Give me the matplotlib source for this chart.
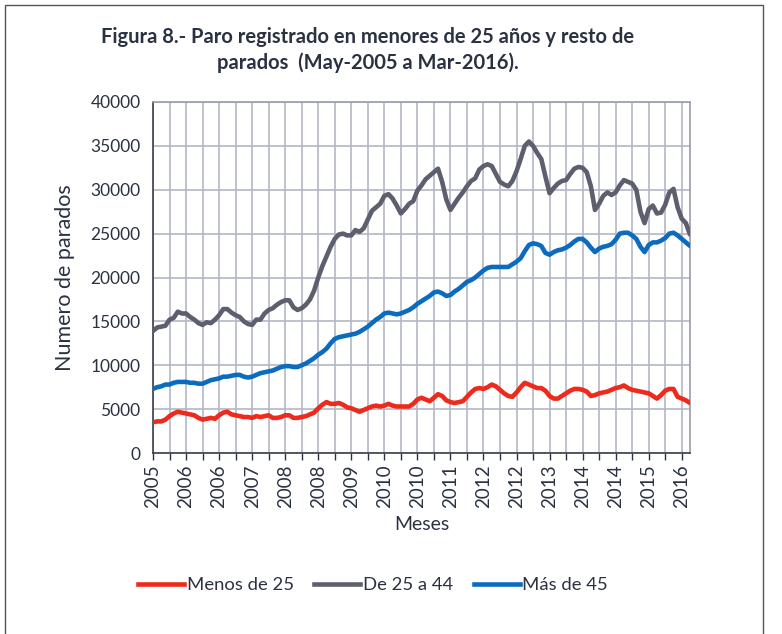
import matplotlib
matplotlib.use("Agg")
import matplotlib.pyplot as plt
from matplotlib.patches import Rectangle
from matplotlib.lines import Line2D

# ---- Data (monthly, May-2005 .. Mar-2016) ----
menos_25 = [3500, 3600, 3600, 3800, 4200, 4500, 4700, 4600, 4500, 4400,
            4300, 4000, 3800, 3900, 4000, 3900, 4300, 4600, 4700, 4400,
            4300, 4200, 4100, 4100, 4000, 4200, 4100, 4200, 4300, 4000,
            4000, 4100, 4300, 4300, 4000, 4000, 4100, 4200, 4400, 4600,
            5100, 5500, 5800, 5600, 5600, 5700, 5500, 5200, 5100, 4900,
            4700, 4900, 5100, 5300, 5400, 5300, 5400, 5600, 5400, 5300,
            5300, 5300, 5300, 5600, 6100, 6300, 6100, 5900, 6300, 6700,
            6500, 6000, 5800, 5700, 5800, 5900, 6400, 6900, 7300, 7400,
            7300, 7500, 7800, 7600, 7200, 6800, 6500, 6400, 6900, 7500,
            8000, 7800, 7600, 7400, 7400, 7100, 6500, 6200, 6200, 6500,
            6800, 7100, 7300, 7300, 7200, 7000, 6500, 6600, 6800, 6900,
            7000, 7200, 7400, 7500, 7700, 7400, 7200, 7100, 7000, 6900,
            6800, 6500, 6200, 6600, 7100, 7300, 7300, 6400, 6200, 6000,
            5700]

de_25_a_44 = [13900, 14300, 14400, 14500, 15200, 15400, 16100, 15900, 15900, 15500,
              15200, 14800, 14600, 14900, 14800, 15200, 15700, 16400, 16400, 16000,
              15700, 15500, 15000, 14700, 14600, 15200, 15200, 15900, 16300, 16500,
              16900, 17200, 17400, 17400, 16600, 16300, 16500, 16900, 17500, 18500,
              20000, 21300, 22400, 23500, 24400, 24900, 25000, 24800, 24800, 25400,
              25200, 25600, 26600, 27600, 28000, 28400, 29300, 29500, 29000, 28200,
              27300, 27800, 28400, 28700, 29900, 30500, 31200, 31600, 32000, 32400,
              30900, 28900, 27700, 28400, 29100, 29700, 30400, 31000, 31300, 32300,
              32700, 32900, 32700, 31800, 30900, 30600, 30400, 31000, 32100, 33500,
              35000, 35500, 35000, 34200, 33500, 31500, 29600, 30200, 30700, 31000,
              31100, 31800, 32400, 32600, 32500, 32000, 30400, 27700, 28400, 29300,
              29700, 29400, 29700, 30500, 31100, 30900, 30700, 30000, 27500, 26200,
              27800, 28200, 27300, 27400, 28300, 29700, 30100, 28000, 26700, 26200,
              24900]

mas_de_45 = [7300, 7500, 7600, 7800, 7800, 8000, 8100, 8100, 8100, 8000,
             8000, 7900, 7900, 8100, 8300, 8400, 8500, 8700, 8700, 8800,
             8900, 8900, 8700, 8600, 8700, 8900, 9100, 9200, 9300, 9400,
             9600, 9800, 9900, 9900, 9800, 9800, 10000, 10200, 10500, 10800,
             11200, 11500, 11900, 12500, 13000, 13200, 13300, 13400, 13500, 13600,
             13800, 14100, 14400, 14800, 15200, 15500, 15900, 16000, 15900, 15800,
             15900, 16100, 16300, 16600, 17000, 17300, 17600, 17900, 18300, 18400,
             18200, 17900, 18000, 18400, 18700, 19100, 19500, 19700, 20000, 20400,
             20800, 21100, 21200, 21200, 21200, 21200, 21200, 21500, 21800, 22200,
             23000, 23700, 23900, 23800, 23600, 22800, 22600, 22900, 23100, 23200,
             23400, 23700, 24100, 24400, 24400, 24000, 23400, 22900, 23300, 23500,
             23600, 23800, 24300, 25000, 25100, 25100, 24800, 24400, 23500, 22900,
             23700, 24000, 24000, 24200, 24500, 25000, 25100, 24800, 24400, 24000,
             23600]

tick_labels = ["2005", "2006", "2006", "2007", "2008", "2008", "2009", "2010",
               "2010", "2011", "2012", "2012", "2013", "2014", "2014", "2015", "2016"]
series_names = ["Menos de 25", "De 25 a 44", "Más de 45"]

# ---- Style ----
plt.rcParams['font.family'] = ['Lato', 'DejaVu Sans']
TXT = "#2a3242"
GRID = "#b3b6c6"
colors = ["#ee2a1c", "#5e5f6e", "#0b6cbf"]

fig = plt.figure(figsize=(7.82, 6.34), dpi=100)
ax = fig.add_axes([153/782, 1-453/634, (690-153)/782, (453-102)/634])

x = list(range(len(menos_25)))
for vals, c, name in zip([menos_25, de_25_a_44, mas_de_45], colors, series_names):
    ax.plot(x, vals, color=c, lw=3.3, solid_capstyle='round', solid_joinstyle='round',
            label=name, zorder=3)

ax.set_xlim(0, len(x) - 1)
ax.set_ylim(0, 40000)
ax.set_yticks(range(0, 40001, 5000))
ax.set_yticklabels([str(v) for v in range(0, 40001, 5000)])

major = list(range(0, len(x), 8))
minor = list(range(0, len(x), 4))
ax.set_xticks(minor, minor=True)
ax.set_xticks(major)
ax.set_xticklabels(tick_labels, rotation=90)

ax.grid(True, which='both', axis='x', color=GRID, lw=1.2, zorder=0)
ax.grid(True, which='major', axis='y', color=GRID, lw=1.2, zorder=0)
ax.set_axisbelow(True)

ax.tick_params(axis='x', which='both', length=5, width=1, color=TXT, direction='out',
               labelsize=13.5, labelcolor=TXT, pad=3)
ax.tick_params(axis='y', length=0, labelsize=12.5, labelcolor=TXT, pad=9)

for s in ['left', 'bottom']:
    ax.spines[s].set_color("#3a3f4c")
    ax.spines[s].set_linewidth(1.2)
for s in ['top', 'right']:
    ax.spines[s].set_color("#9a9dab")
    ax.spines[s].set_linewidth(1.2)

ax.set_ylabel("Numero de parados", fontsize=15.5, color=TXT, labelpad=11)
ax.set_xlabel("Meses", fontsize=14, color=TXT, labelpad=6)

fig.text(368/782, 1-37/634, "Figura 8.- Paro registrado en menores de 25 años y resto de",
         ha='center', va='center', fontsize=14.5, fontweight='bold', color=TXT)
fig.text(368/782, 1-63/634, "parados  (May-2005 a Mar-2016).",
         ha='center', va='center', fontsize=14.5, fontweight='bold', color=TXT)

handles = [Line2D([0], [0], color=c, lw=3.3) for c in colors]
fig.legend(handles, series_names, loc='center', bbox_to_anchor=(373/782, 1-585/634),
           ncol=3, frameon=False, handlelength=2.5, handletextpad=0.15,
           columnspacing=1.1, labelcolor=TXT, prop={'size': 13.3})

fig.patches.append(Rectangle((5/782, -0.05), (763-5)/782, 1.05 - 5/634, transform=fig.transFigure,
                             fill=False, edgecolor="#555555", lw=1.0, clip_on=False))

fig.savefig("out.png", dpi=100)
